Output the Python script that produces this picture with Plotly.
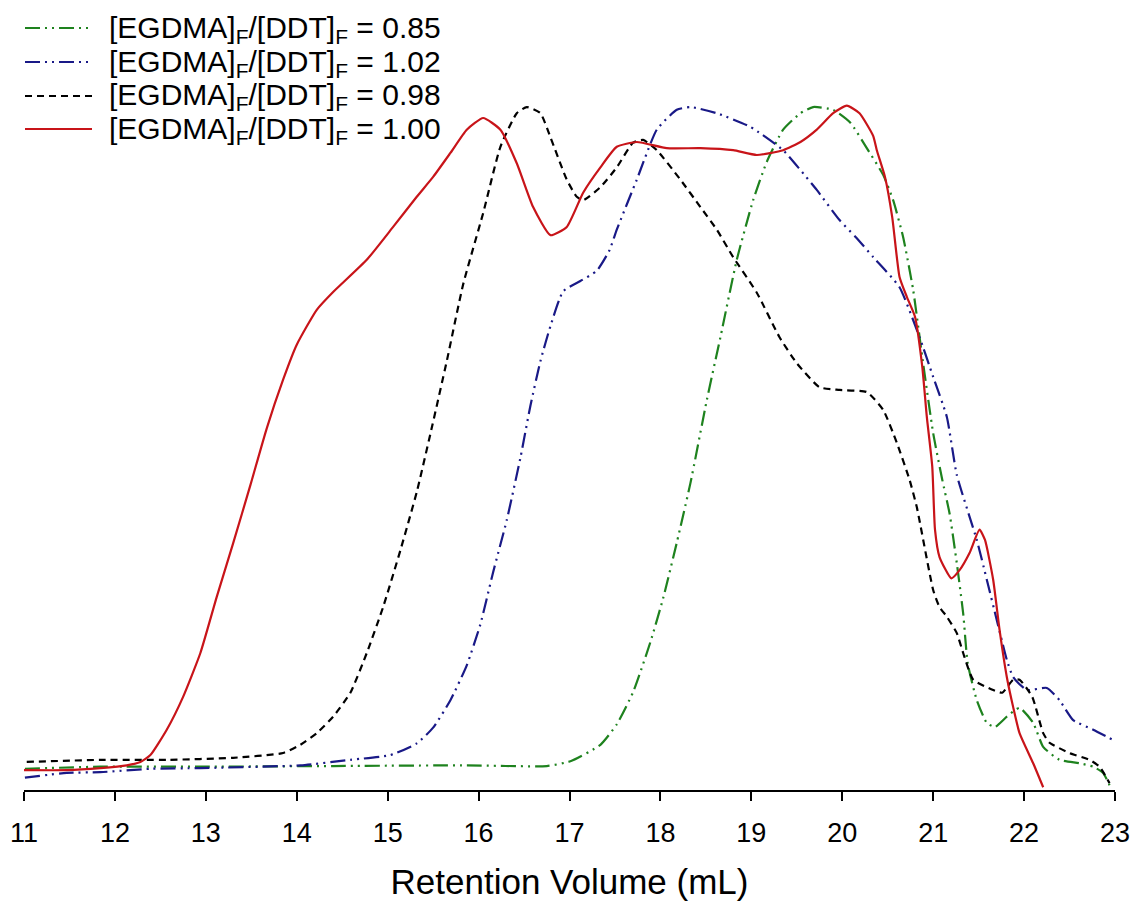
import plotly.graph_objects as go

# ---- data (retention volume in mL, normalised detector response) ----
red_x = [11.00, 11.47, 11.84, 12.13, 12.28, 12.39, 12.57, 12.75, 12.94, 13.12, 13.30, 13.49,
         13.67, 13.85, 14.00, 14.22, 14.40, 14.77, 15.06, 15.32, 15.50, 15.69, 15.87, 16.05, 16.24,
         16.42, 16.60, 16.79, 16.97, 17.15, 17.34, 17.52, 17.74, 18.07, 18.44, 18.80, 19.06, 19.35,
         19.54, 19.72, 19.90, 20.05, 20.19, 20.34, 20.38, 20.47, 20.55, 20.63, 20.71, 20.80, 20.88,
         20.93, 20.99, 21.02, 21.07, 21.20, 21.29, 21.40, 21.51, 21.57, 21.66, 21.73, 21.81, 21.88,
         21.95, 22.10, 22.21]
red_y = [0.029, 0.029, 0.032, 0.036, 0.041, 0.051, 0.088, 0.136, 0.200, 0.282, 0.360, 0.445,
         0.528, 0.599, 0.650, 0.701, 0.727, 0.774, 0.822, 0.866, 0.895, 0.930, 0.964, 0.981, 0.964,
         0.915, 0.851, 0.810, 0.822, 0.872, 0.909, 0.939, 0.946, 0.937, 0.937, 0.934, 0.927, 0.934,
         0.946, 0.964, 0.988, 0.999, 0.988, 0.955, 0.934, 0.895, 0.836, 0.749, 0.720, 0.691, 0.618,
         0.545, 0.472, 0.380, 0.340, 0.309, 0.321, 0.346, 0.380, 0.365, 0.307, 0.234, 0.165, 0.121,
         0.083, 0.039, 0.004]

black_x = [11.03, 11.84, 12.57, 13.30, 13.85, 14.04, 14.22, 14.40, 14.59, 14.77, 14.95, 15.14, 15.32,
           15.47, 15.65, 15.83, 16.05, 16.24, 16.42, 16.53, 16.68, 16.79, 16.97, 17.08, 17.15, 17.34,
           17.52, 17.70, 17.81, 17.96, 18.22, 18.44, 18.62, 18.80, 19.06, 19.31, 19.50, 19.75, 19.97,
           20.27, 20.45, 20.60, 20.74, 20.82, 21.00, 21.07, 21.15, 21.26, 21.33, 21.44, 21.66, 21.76,
           21.88, 21.95, 22.09, 22.21, 22.28, 22.50, 22.72, 22.83, 22.94]
black_y = [0.041, 0.044, 0.044, 0.047, 0.054, 0.066, 0.083, 0.107, 0.142, 0.200, 0.267, 0.350, 0.435,
           0.520, 0.626, 0.738, 0.842, 0.939, 0.988, 0.997, 0.988, 0.953, 0.891, 0.866, 0.861, 0.880,
           0.909, 0.945, 0.949, 0.934, 0.891, 0.851, 0.818, 0.778, 0.726, 0.661, 0.623, 0.588, 0.584,
           0.581, 0.555, 0.507, 0.453, 0.413, 0.292, 0.267, 0.253, 0.229, 0.200, 0.161, 0.146, 0.142,
           0.161, 0.161, 0.136, 0.083, 0.069, 0.054, 0.044, 0.034, 0.010]

blue_x = [11.01, 11.47, 11.84, 12.39, 12.94, 14.04, 14.59, 15.03, 15.32, 15.50, 15.69, 15.87, 16.02,
          16.16, 16.31, 16.46, 16.57, 16.68, 16.79, 16.93, 17.12, 17.30, 17.44, 17.52, 17.74, 17.96,
          18.18, 18.33, 18.62, 18.99, 19.35, 19.54, 19.72, 19.97, 20.15, 20.34, 20.63, 20.85, 21.00,
          21.15, 21.26, 21.48, 21.59, 21.70, 21.81, 21.88, 22.03, 22.25, 22.39, 22.54, 22.76, 22.98]
blue_y = [0.018, 0.025, 0.026, 0.031, 0.032, 0.036, 0.044, 0.051, 0.068, 0.091, 0.131, 0.182, 0.242,
          0.318, 0.394, 0.485, 0.561, 0.626, 0.677, 0.728, 0.743, 0.758, 0.788, 0.818, 0.891, 0.964,
          0.993, 0.997, 0.988, 0.968, 0.934, 0.905, 0.876, 0.832, 0.807, 0.778, 0.734, 0.661, 0.603,
          0.545, 0.460, 0.365, 0.307, 0.248, 0.190, 0.165, 0.146, 0.149, 0.131, 0.102, 0.088, 0.073]

green_x = [11.01, 11.84, 12.94, 14.40, 15.87, 16.75, 17.01, 17.34, 17.52, 17.70, 17.89, 18.03, 18.18,
           18.33, 18.51, 18.66, 18.84, 19.02, 19.17, 19.35, 19.54, 19.68, 19.90, 20.09, 20.27, 20.45,
           20.56, 20.67, 20.78, 20.88, 21.00, 21.10, 21.18, 21.26, 21.33, 21.38, 21.48, 21.59, 21.68,
           21.81, 21.95, 22.10, 22.21, 22.39, 22.61, 22.76, 22.87, 22.94]
green_y = [0.031, 0.034, 0.034, 0.035, 0.036, 0.035, 0.042, 0.066, 0.096, 0.143, 0.216, 0.280, 0.361,
           0.448, 0.569, 0.661, 0.774, 0.861, 0.917, 0.964, 0.988, 0.997, 0.993, 0.974, 0.937, 0.898,
           0.861, 0.807, 0.730, 0.632, 0.521, 0.453, 0.404, 0.331, 0.258, 0.185, 0.131, 0.098, 0.092,
           0.107, 0.120, 0.098, 0.063, 0.044, 0.039, 0.034, 0.025, 0.007]

x_ticks = [11, 12, 13, 14, 15, 16, 17, 18, 19, 20, 21, 22, 23]

labels = ["[EGDMA]<sub>F</sub>/[DDT]<sub>F</sub> = 0.85",
          "[EGDMA]<sub>F</sub>/[DDT]<sub>F</sub> = 1.02",
          "[EGDMA]<sub>F</sub>/[DDT]<sub>F</sub> = 0.98",
          "[EGDMA]<sub>F</sub>/[DDT]<sub>F</sub> = 1.00"]

# ---- styles ----
GREEN = "rgb(30,130,30)"
NAVY = "rgb(25,25,135)"
BLACK = "rgb(0,0,0)"
RED = "rgb(200,20,25)"
DASHDOTDOT = "15px,5px,2px,5px,2px,5px"
DASHED = "7px,5px"
FONT = "Arial, Liberation Sans, sans-serif"

series = [
    (green_x, green_y, GREEN, DASHDOTDOT),
    (blue_x, blue_y, NAVY, DASHDOTDOT),
    (black_x, black_y, BLACK, DASHED),
    (red_x, red_y, RED, "solid"),
]

fig = go.Figure()
for (xs, ys, col, dash), name in zip(series, labels):
    fig.add_trace(go.Scatter(x=xs, y=ys, mode="lines", name=name, showlegend=False,
                             line=dict(color=col, width=2.2, dash=dash, shape="spline", smoothing=0.5)))

# layout geometry
W, H = 1136, 911
ML, MR, MT, MB = 24, 21, 60, 121
plot_w = W - ML - MR
plot_h = H - MT - MB
y_top = plot_h / 685.0  # value 1.0 sits 685 px above the axis


def paper_x(px):
    return (px - ML) / plot_w


def paper_y(py):
    return (H - MB - py) / plot_h


# manual legend (long line samples, as in the original)
legend_rows = [28, 62, 96, 129]
shapes = []
annotations = []
for (xs, ys, col, dash), name, row in zip(series, labels, legend_rows):
    shapes.append(dict(type="line", xref="paper", yref="paper",
                       x0=paper_x(25), x1=paper_x(92), y0=paper_y(row), y1=paper_y(row),
                       line=dict(color=col, width=2, dash=dash)))
    annotations.append(dict(xref="paper", yref="paper", x=paper_x(107), y=paper_y(row + 1),
                            xanchor="left", yanchor="middle", showarrow=False, text=name,
                            font=dict(family=FONT, size=30, color="black")))

fig.update_layout(
    width=W, height=H,
    margin=dict(l=ML, r=MR, t=MT, b=MB, autoexpand=False),
    paper_bgcolor="white", plot_bgcolor="white",
    font=dict(family=FONT, color="black"),
    shapes=shapes, annotations=annotations,
    showlegend=False,
)
fig.update_xaxes(range=[11, 23], tickvals=x_ticks, ticktext=[str(t) for t in x_ticks],
                 automargin=False,
                 showline=True, linecolor="black", linewidth=2, mirror=False,
                 ticks="outside", ticklen=9, tickwidth=2, tickcolor="black",
                 ticklabelstandoff=9,
                 showgrid=False, zeroline=False,
                 tickfont=dict(family=FONT, size=27, color="black"),
                 title=dict(text="Retention Volume (mL)", standoff=22,
                            font=dict(family=FONT, size=35, color="black")))
fig.update_yaxes(range=[0, y_top], visible=False, showgrid=False, zeroline=False, automargin=False)

fig.write_html("out.html", config={"displayModeBar": False})
